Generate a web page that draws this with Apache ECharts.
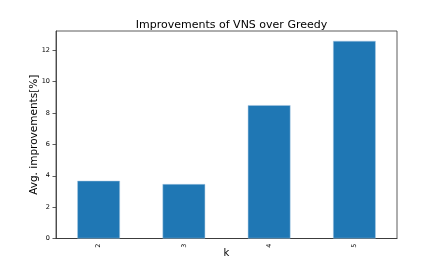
<!DOCTYPE html>
<html>
<head>
<meta charset="utf-8">
<script src="https://cdn.jsdelivr.net/npm/echarts@6/dist/echarts.min.js"></script>
<style>
html,body{margin:0;padding:0;background:#fff;}
#c{width:441px;height:268px;}
</style>
</head>
<body>
<div id="c"></div>
<script>
var categories = ['2', '3', '4', '5'];
var improvements = [3.68, 3.47, 8.5, 12.6];
var yTicks = [0, 2, 4, 6, 8, 10, 12];

var chart = echarts.init(document.getElementById('c'), null, {renderer: 'canvas'});
var font = 'DejaVu Sans';
chart.setOption({
  animation: false,
  backgroundColor: '#ffffff',
  title: {
    text: 'Improvements of VNS over Greedy',
    left: 226.5,
    textAlign: 'center',
    top: 15,
    textStyle: {fontFamily: font, fontSize: 11, fontWeight: 'normal', color: '#000'}
  },
  grid: {
    left: 56, right: 44, top: 31, bottom: 29.5,
    show: true, borderColor: '#333', borderWidth: 0.8, backgroundColor: 'transparent'
  },
  xAxis: {
    type: 'category',
    data: categories,
    name: 'k',
    nameLocation: 'middle',
    nameGap: 10,
    nameMoveOverlap: false,
    nameTextStyle: {fontFamily: font, fontSize: 10, color: '#000'},
    axisLine: {lineStyle: {color: '#333', width: 0.8}},
    axisTick: {alignWithLabel: true, length: 3.5, lineStyle: {color: '#333', width: 0.8}},
    axisLabel: {rotate: 90, fontFamily: font, fontSize: 6.5, color: '#000', margin: 5}
  },
  yAxis: {
    type: 'value',
    min: 0,
    max: 13.23,
    interval: 2,
    name: 'Avg. improvements[%]',
    nameLocation: 'middle',
    nameGap: 16,
    nameMoveOverlap: false,
    nameTextStyle: {fontFamily: font, fontSize: 10.5, color: '#000'},
    splitLine: {show: false},
    axisLine: {show: true, lineStyle: {color: '#333', width: 0.8}},
    axisTick: {show: true, length: 3.5, customValues: yTicks, lineStyle: {color: '#333', width: 0.8}},
    axisLabel: {customValues: yTicks, fontFamily: font, fontSize: 6.5, color: '#000', margin: 6}
  },
  series: [{
    type: 'bar',
    data: improvements,
    barWidth: '50%',
    itemStyle: {color: '#1f77b4', borderColor: '#a9c8e3', borderWidth: 0.5}
  }]
});
</script>
</body>
</html>
